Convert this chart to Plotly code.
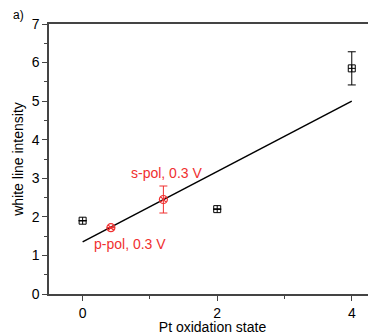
import plotly.graph_objects as go

ref_x = [0, 2, 4]
ref_y = [1.9, 2.2, 5.85]
ref_err = [0.0, 0.0, 0.43]

pol_x = [0.42, 1.2]
pol_y = [1.72, 2.45]
pol_err = [0.0, 0.35]

label_text = ["p-pol, 0.3 V", "s-pol, 0.3 V"]
label_x = [0.70, 1.24]
label_y = [1.30, 3.13]

fit_x = [0, 4]
fit_y = [1.35, 5.0]

font = "Liberation Sans, Arial, sans-serif"
red = "#f03030"
fig = go.Figure()
fig.add_trace(go.Scatter(x=fit_x, y=fit_y, mode="lines", line=dict(color="black", width=1.5), showlegend=False))
fig.add_trace(go.Scatter(x=ref_x, y=ref_y, mode="markers",
    marker=dict(symbol="square-cross-open", size=7, color="black", line=dict(width=1)),
    error_y=dict(type="data", array=ref_err, color="black", thickness=1, width=4),
    showlegend=False))
fig.add_trace(go.Scatter(x=pol_x, y=pol_y, mode="markers",
    marker=dict(symbol="circle-x-open", size=8, color=red, line=dict(width=1.2)),
    error_y=dict(type="data", array=pol_err, color=red, thickness=1, width=4),
    showlegend=False))

for t, x, y in zip(label_text, label_x, label_y):
    fig.add_annotation(x=x, y=y, text=t, showarrow=False, xanchor="center", yanchor="middle",
                       font=dict(color=red, size=14, family=font))
fig.add_annotation(x=0, y=1, xref="paper", yref="paper", text="a)", showarrow=False,
                   xanchor="center", yanchor="middle", xshift=-31, yshift=9,
                   font=dict(color="black", size=12, family=font))

# the page adds an 8px body margin, so the figure is 8px smaller than the window
fig.update_layout(
    width=368, height=327, margin=dict(l=41, r=0, t=16, b=41, autoexpand=False),
    paper_bgcolor="white", plot_bgcolor="white",
    font=dict(family=font, size=14, color="black"),
)
fig.update_xaxes(range=[-0.5, 4.36], tickvals=[0, 2, 4], ticks="outside", ticklen=5,
                 tickfont=dict(size=14), automargin=False,
                 minor=dict(tickvals=[1, 3], ticks="outside", ticklen=3, tickcolor="#444"),
                 showline=True, linecolor="#444", linewidth=1.5, mirror=True, showgrid=False,
                 zeroline=False, title=dict(text="Pt oxidation state", standoff=3, font=dict(size=14)))
fig.update_yaxes(range=[0, 7], tickvals=list(range(8)), ticks="outside", ticklen=5,
                 tickfont=dict(size=14), automargin=False,
                 minor=dict(tickvals=[0.5 + i for i in range(7)], ticks="outside", ticklen=3, tickcolor="#444"),
                 showline=True, linecolor="#444", linewidth=1.5, showgrid=False,
                 zeroline=False, title=dict(text="white line intensity", standoff=5, font=dict(size=14)))
fig.write_html("out.html", config={"displayModeBar": False})
